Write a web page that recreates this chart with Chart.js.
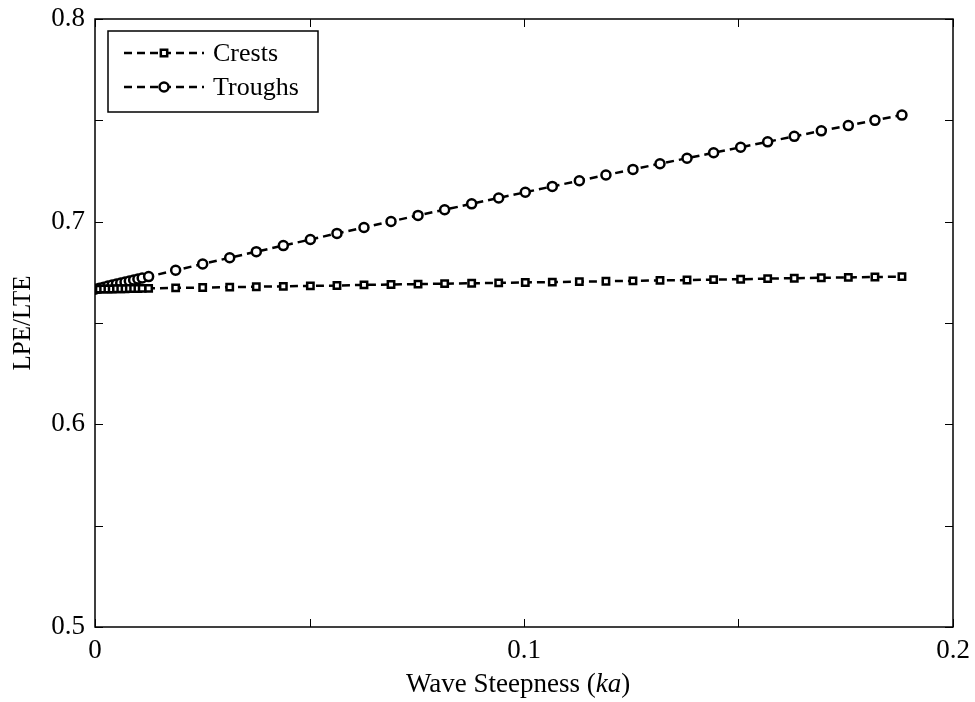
<!DOCTYPE html>
<html>
<head>
<meta charset="utf-8">
<script src="https://cdn.jsdelivr.net/npm/chart.js@4.4.1/dist/chart.umd.min.js"></script>
<style>
  html, body { margin: 0; padding: 0; background: #fff; }
  #wrap { position: relative; width: 975px; height: 702px; }
</style>
</head>
<body>
<div id="wrap"><canvas id="chart"></canvas></div>
<script>
// wave steepness ka (dense near zero, then even steps)
const steepness = [
  0, 0.001, 0.002, 0.003, 0.004, 0.005, 0.006, 0.007, 0.008, 0.009, 0.010, 0.011,
  0.0125, 0.0188, 0.0251, 0.0314, 0.0376, 0.0439, 0.0502, 0.0564, 0.0627, 0.0690,
  0.0753, 0.0815, 0.0878, 0.0941, 0.1003, 0.1066, 0.1129, 0.1191, 0.1254, 0.1317,
  0.1380, 0.1442, 0.1505, 0.1568, 0.1630, 0.1693, 0.1756, 0.1818, 0.1881
];
const crests = [
  0.6667, 0.6667, 0.6668, 0.6668, 0.6668, 0.6669, 0.6669, 0.6669, 0.6670, 0.6670, 0.6670, 0.6671,
  0.6671, 0.6673, 0.6675, 0.6677, 0.6679, 0.6681, 0.6683, 0.6685, 0.6688, 0.6690,
  0.6692, 0.6694, 0.6696, 0.6698, 0.6700, 0.6702, 0.6704, 0.6706, 0.6708, 0.6710,
  0.6712, 0.6714, 0.6716, 0.6719, 0.6721, 0.6723, 0.6725, 0.6727, 0.6729
];
const troughs = [
  0.6667, 0.6672, 0.6677, 0.6682, 0.6687, 0.6692, 0.6697, 0.6702, 0.6707, 0.6712, 0.6717, 0.6722,
  0.6729, 0.6760, 0.6791, 0.6822, 0.6852, 0.6882, 0.6912, 0.6942, 0.6971, 0.7001,
  0.7031, 0.7059, 0.7088, 0.7117, 0.7145, 0.7174, 0.7202, 0.7230, 0.7258, 0.7286,
  0.7313, 0.7340, 0.7367, 0.7394, 0.7421, 0.7448, 0.7474, 0.7500, 0.7526
];
const xTickMarks = [0, 0.05, 0.1, 0.15, 0.2];
const xTickLabels = [0, 0.1, 0.2];
const yTickMarks = [0.5, 0.55, 0.6, 0.65, 0.7, 0.75, 0.8];
const yTickLabels = [0.5, 0.6, 0.7, 0.8];

const FONT = '"Liberation Serif", "DejaVu Serif", serif';
Chart.defaults.font.family = FONT;
Chart.defaults.color = '#000';

const pts = (ys) => steepness.map((x, i) => ({ x: x, y: ys[i] }));
const isLabel = (list, v) => list.some(t => Math.abs(t - v) < 1e-9);

// box with inward ticks on all four sides
const framePlugin = {
  id: 'frame',
  beforeDatasetsDraw(chart) {
    const { ctx, chartArea: a, scales: { x, y } } = chart;
    ctx.save();
    ctx.strokeStyle = '#000';
    ctx.lineWidth = 1.5;
    ctx.strokeRect(a.left, a.top, a.right - a.left, a.bottom - a.top);
    ctx.lineWidth = 1;
    const len = 8;
    ctx.beginPath();
    xTickMarks.forEach(v => {
      const px = Math.round(x.getPixelForValue(v)) + 0.5;
      ctx.moveTo(px, a.bottom); ctx.lineTo(px, a.bottom - len);
      ctx.moveTo(px, a.top); ctx.lineTo(px, a.top + len);
    });
    yTickMarks.forEach(v => {
      const py = Math.round(y.getPixelForValue(v)) + 0.5;
      ctx.moveTo(a.left, py); ctx.lineTo(a.left + len, py);
      ctx.moveTo(a.right, py); ctx.lineTo(a.right - len, py);
    });
    ctx.stroke();
    ctx.restore();
  },
  afterDraw(chart) {
    const { ctx, chartArea: a } = chart;
    ctx.save();
    ctx.fillStyle = '#000';
    // x title with italic ka
    const parts = [['Wave Steepness (', 'normal'], ['ka', 'italic'], [')', 'normal']];
    let total = 0;
    parts.forEach(p => { ctx.font = p[1] + ' 27px ' + FONT; total += ctx.measureText(p[0]).width; });
    let cx = (a.left + a.right) / 2 - total / 2 - 6;
    ctx.textBaseline = 'alphabetic';
    parts.forEach(p => {
      ctx.font = p[1] + ' 27px ' + FONT;
      ctx.fillText(p[0], cx, 692);
      cx += ctx.measureText(p[0]).width;
    });
    // y title
    ctx.translate(30, (a.top + a.bottom) / 2);
    ctx.rotate(-Math.PI / 2);
    ctx.font = '25px ' + FONT;
    ctx.textAlign = 'center';
    ctx.fillText('LPE/LTE', 0, 0);
    ctx.restore();

    // legend box
    const lx = 108, ly = 31, lw = 210, lh = 81;
    ctx.save();
    ctx.fillStyle = '#fff';
    ctx.fillRect(lx, ly, lw, lh);
    ctx.strokeStyle = '#000';
    ctx.lineWidth = 1.5;
    ctx.strokeRect(lx, ly, lw, lh);
    chart.data.datasets.forEach((ds, i) => {
      const yy = ly + 22 + i * 34;
      ctx.setLineDash(ds.borderDash);
      ctx.lineWidth = ds.borderWidth;
      ctx.beginPath();
      ctx.moveTo(124, yy); ctx.lineTo(204, yy);
      ctx.stroke();
      ctx.setLineDash([]);
      ctx.lineWidth = ds.pointBorderWidth;
      ctx.fillStyle = '#fff';
      Chart.helpers.drawPoint(ctx, { pointStyle: ds.pointStyle, radius: ds.pointRadius, borderWidth: ds.pointBorderWidth }, 164, yy);
      ctx.fillStyle = '#000';
      ctx.font = '26px ' + FONT;
      ctx.textBaseline = 'middle';
      ctx.fillText(ds.label, 213, yy + 1);
    });
    ctx.restore();
  }
};

const common = {
  borderColor: '#000',
  borderWidth: 2.5,
  borderDash: [8, 5],
  pointBorderColor: '#000',
  pointBackgroundColor: '#fff',
  pointBorderWidth: 2.5,
  fill: false,
  tension: 0
};

new Chart(document.getElementById('chart'), {
  type: 'line',
  data: {
    datasets: [
      Object.assign({ label: 'Crests', data: pts(crests), pointStyle: 'rect', pointRadius: 4.5 }, common),
      Object.assign({ label: 'Troughs', data: pts(troughs), pointStyle: 'circle', pointRadius: 4.5 }, common)
    ]
  },
  options: {
    responsive: true,
    maintainAspectRatio: false,
    animation: false,
    layout: { padding: { top: 19, right: 22 } },
    plugins: { legend: { display: false }, tooltip: { enabled: false } },
    scales: {
      x: {
        type: 'linear',
        min: 0, max: 0.2,
        afterFit: s => { s.height = 75; s.paddingLeft = 0; s.paddingRight = 0; },
        afterBuildTicks: s => { s.ticks = xTickMarks.map(v => ({ value: v })); },
        grid: { display: false, drawTicks: false },
        border: { display: false },
        ticks: {
          padding: 8,
          font: { size: 27 },
          maxRotation: 0,
          autoSkip: false,
          callback: v => isLabel(xTickLabels, v) ? String(+v.toFixed(2)) : ''
        }
      },
      y: {
        type: 'linear',
        min: 0.5, max: 0.8,
        afterFit: s => { s.width = 95; s.paddingTop = 0; s.paddingBottom = 0; },
        afterBuildTicks: s => { s.ticks = yTickMarks.map(v => ({ value: v })); },
        grid: { display: false, drawTicks: false },
        border: { display: false },
        ticks: {
          padding: 10,
          font: { size: 27 },
          autoSkip: false,
          callback: v => isLabel(yTickLabels, v) ? (+v).toFixed(1) : ''
        }
      }
    }
  },
  plugins: [framePlugin]
});
</script>
</body>
</html>
